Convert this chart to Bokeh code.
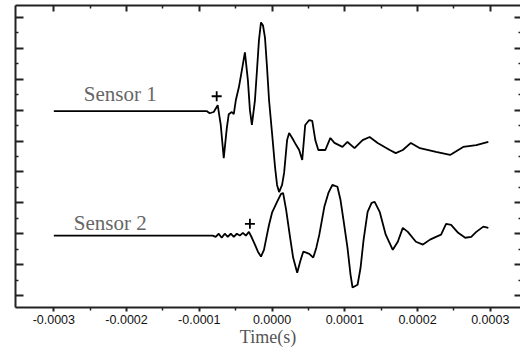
from bokeh.plotting import figure
from bokeh.models import Range1d, LinearAxis, FixedTicker, CustomJSTickFormatter, PrintfTickFormatter
from bokeh.core.properties import value
from bokeh.embed import file_html
from bokeh.resources import INLINE

# ---- data (time in seconds, amplitude in arbitrary offset units) ----
s1_t = [-0.000300, -0.0000899, -0.0000858, -0.0000802, -0.0000747, -0.0000705, -0.0000664,
        -0.0000622, -0.0000595, -0.0000553, -0.0000526, -0.0000498, -0.0000456, -0.0000415,
        -0.0000373, -0.0000332, -0.0000304, -0.0000277, -0.0000235, -0.0000207, -0.0000180,
        -0.0000152, -0.0000124, -0.0000097, -0.0000069, -0.0000041, 0.0000000, 0.0000041,
        0.0000069, 0.0000097, 0.0000138, 0.0000166, 0.0000207, 0.0000235, 0.0000277,
        0.0000332, 0.0000373, 0.0000415, 0.0000456, 0.0000512, 0.0000553, 0.0000595,
        0.0000636, 0.0000733, 0.0000802, 0.0000858, 0.0000968, 0.0001037, 0.0001134,
        0.0001245, 0.0001342, 0.0001452, 0.0001618, 0.0001701, 0.0001798, 0.0001909,
        0.0002033, 0.0002254, 0.0002448, 0.0002628, 0.0002808, 0.0002974]
s1_y = [5.97, 5.97, 5.90, 5.94, 6.16, 5.52, 4.45,
        5.42, 5.87, 5.94, 5.87, 6.32, 6.74, 7.29,
        7.87, 6.97, 6.00, 5.52, 6.32, 7.29, 8.26,
        8.84, 8.74, 8.35, 7.39, 6.32, 5.26, 4.16,
        3.58, 3.35, 3.58, 3.97, 5.03, 5.26, 5.10,
        4.87, 4.71, 4.39, 5.52, 5.68, 5.65, 5.03,
        4.71, 4.71, 5.10, 4.94, 4.81, 4.97, 4.77,
        5.03, 5.13, 4.94, 4.71, 4.61, 4.71, 4.94,
        4.77, 4.65, 4.55, 4.81, 4.87, 4.97]

s2_t = [-0.000300, -0.0000816, -0.0000775, -0.0000733, -0.0000692, -0.0000650, -0.0000609,
        -0.0000567, -0.0000526, -0.0000484, -0.0000443, -0.0000401, -0.0000360, -0.0000318,
        -0.0000277, -0.0000235, -0.0000194, -0.0000152, -0.0000111, -0.0000069, -0.0000041,
        0.0000000, 0.0000069, 0.0000124, 0.0000152, 0.0000194, 0.0000249, 0.0000290,
        0.0000346, 0.0000387, 0.0000429, 0.0000470, 0.0000512, 0.0000567, 0.0000609,
        0.0000650, 0.0000719, 0.0000775, 0.0000830, 0.0000899, 0.0000941, 0.0000982,
        0.0001037, 0.0001079, 0.0001107, 0.0001176, 0.0001217, 0.0001259, 0.0001314,
        0.0001369, 0.0001411, 0.0001480, 0.0001563, 0.0001660, 0.0001729, 0.0001798,
        0.0001867, 0.0001978, 0.0002075, 0.0002172, 0.0002254, 0.0002324, 0.0002393,
        0.0002462, 0.0002559, 0.0002656, 0.0002739, 0.0002808, 0.0002905, 0.0002974]
s2_y = [1.94, 1.94, 1.90, 2.00, 1.87, 2.00, 1.90,
        2.00, 1.90, 2.00, 1.94, 2.03, 1.94, 2.06,
        1.87, 1.65, 1.42, 1.26, 1.48, 1.97, 2.29,
        2.68, 3.03, 3.29, 3.32, 2.77, 1.87, 1.23,
        0.74, 1.10, 1.42, 1.39, 1.35, 1.23, 1.55,
        1.97, 2.87, 3.32, 3.58, 3.52, 3.10, 2.45,
        1.55, 0.68, 0.26, 0.35, 0.90, 1.81, 2.71,
        3.00, 3.03, 2.71, 1.97, 1.48, 1.74, 2.19,
        2.06, 1.74, 1.65, 1.81, 1.90, 1.97, 2.32,
        2.29, 2.03, 1.87, 1.90, 2.06, 2.23, 2.19]

# onset picks ("+")
pick_t = [-0.0000761, -0.0000304]
pick_y = [6.45, 2.32]

# sensor labels
label_text = ["Sensor 1", "Sensor 2"]
label_t = [-0.0002587, -0.0002725]
label_y = [6.52, 2.35]

x_ticks = [-0.0003, -0.0002, -0.0001, 0.0, 0.0001, 0.0002, 0.0003]
x_minor = [-0.00025, -0.00015, -0.00005, 0.00005, 0.00015, 0.00025]
y_ticks = [0, 1, 2, 3, 4, 5, 6, 7, 8, 9]
y_minor = [0.5, 1.5, 2.5, 3.5, 4.5, 5.5, 6.5, 7.5, 8.5]

p = figure(width=520, height=349,
           x_range=Range1d(-0.0003527, 0.0003416),
           y_range=Range1d(-0.387, 9.387),
           output_backend="svg", toolbar_location=None,
           x_axis_location=None, y_axis_location=None,
           min_border_left=15, min_border_right=0, min_border_top=5, min_border_bottom=40)
p.outline_line_color = None
p.grid.grid_line_color = None
p.background_fill_color = "white"
p.border_fill_color = "white"

empty = CustomJSTickFormatter(code="return ''")


def style(ax, tin, tout, mtin, mtout):
    ax.major_tick_in = tin
    ax.major_tick_out = tout
    ax.minor_tick_in = mtin
    ax.minor_tick_out = mtout
    ax.major_tick_line_width = 2
    ax.minor_tick_line_width = 1.5
    ax.axis_line_width = 2
    ax.major_tick_line_color = "#222222"
    ax.minor_tick_line_color = "#222222"
    ax.axis_line_color = "#222222"


bottom = LinearAxis(ticker=FixedTicker(ticks=x_ticks, minor_ticks=x_minor),
                    formatter=PrintfTickFormatter(format="%.4f"),
                    axis_label="Time(s)")
style(bottom, 0, 4, 0, 3)
bottom.major_label_standoff = 3
bottom.major_label_text_font = "Liberation Sans"
bottom.major_label_text_font_size = "12.5px"
bottom.major_label_text_color = "#111111"
bottom.axis_label_text_font = "Liberation Serif"
bottom.axis_label_text_font_style = "normal"
bottom.axis_label_text_font_size = "18px"
bottom.axis_label_text_color = "#555555"
bottom.axis_label_standoff = 0
p.add_layout(bottom, "below")

top = LinearAxis(ticker=FixedTicker(ticks=x_ticks, minor_ticks=x_minor), formatter=empty)
style(top, 6, 0, 3, 0)
top.major_label_standoff = 0
p.add_layout(top, "above")

left = LinearAxis(ticker=FixedTicker(ticks=y_ticks, minor_ticks=y_minor), formatter=empty)
style(left, 8, 0, 3, 0)
left.major_label_standoff = 0
p.add_layout(left, "left")

right = LinearAxis(ticker=FixedTicker(ticks=y_ticks, minor_ticks=y_minor), formatter=empty)
style(right, 6, 0, 2, 0)
right.axis_line_color = None
right.major_label_standoff = 0
p.add_layout(right, "right")

p.line(s1_t, s1_y, line_color="black", line_width=1.8)
p.line(s2_t, s2_y, line_color="black", line_width=1.8)
p.scatter(pick_t, pick_y, marker="cross", size=10, line_color="black", line_width=1.8)
p.text(label_t, label_y, text=label_text, text_font=value("Liberation Serif"),
       text_font_size="21px", text_color="#666666", text_baseline="alphabetic",
       text_align="left")

open("out.html", "w").write(file_html(p, INLINE))
